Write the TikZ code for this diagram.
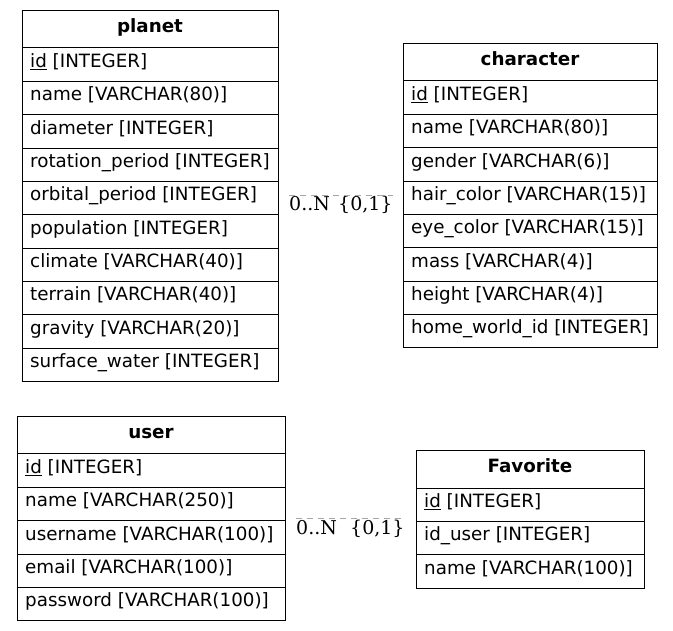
\documentclass[tikz,border=0pt]{standalone}
\usepackage{fontspec}
\setmainfont{DejaVu Sans}
\newfontfamily\lblfont{DejaVu Serif}
\tikzset{
  tbl/.style={draw=black, line width=1pt},
  fld/.style={anchor=base west, inner sep=0pt, font=\fontsize{18.3}{22}\selectfont},
  hdr/.style={anchor=base, inner sep=0pt, font=\fontsize{18.3}{22}\selectfont\bfseries},
  card/.style={anchor=base west, inner sep=0pt, font=\lblfont\fontsize{19}{22}\selectfont},
  rel/.style={draw=black!35, line width=1.5pt, dash pattern=on 6pt off 5pt}
}
% name, x1, x2, top, title, fields
\newcommand\erTable[6]{%
  \node[hdr] (#1-h) at ({(#2+#3)/2}, #4+21.5) {#5};
  \foreach \ftext [count=\i] in {#6} {
    \pgfmathsetmacro\rt{#4+37+(\i-1)*33.35}
    \draw[tbl] (#2,\rt) -- (#3,\rt);
    \node[fld] (#1-\i) at (#2+8,\rt+19.5) {\ftext};
    \xdef\nrows{\i}
  }
  \draw[tbl] (#2,#4) rectangle (#3,{#4+37+\nrows*33.35});
}
\begin{document}
\begin{tikzpicture}[x=1pt,y=-1pt]
\useasboundingbox (0,0) rectangle (673,631);
\fill[white] (0,0) rectangle (673,631);

\erTable{planet}{22}{278}{11}{planet}{%
  \underline{id} [INTEGER],
  name [VARCHAR(80)],
  diameter [INTEGER],
  rotation\_period [INTEGER],
  orbital\_period [INTEGER],
  population [INTEGER],
  climate [VARCHAR(40)],
  terrain [VARCHAR(40)],
  gravity [VARCHAR(20)],
  surface\_water [INTEGER]}

\erTable{character}{403}{657}{44}{character}{%
  \underline{id} [INTEGER],
  name [VARCHAR(80)],
  gender [VARCHAR(6)],
  hair\_color [VARCHAR(15)],
  eye\_color [VARCHAR(15)],
  mass [VARCHAR(4)],
  height [VARCHAR(4)],
  home\_world\_id [INTEGER]}

\erTable{user}{17}{285}{417}{user}{%
  \underline{id} [INTEGER],
  name [VARCHAR(250)],
  username [VARCHAR(100)],
  email [VARCHAR(100)],
  password [VARCHAR(100)]}

\erTable{favorite}{416}{644}{451}{Favorite}{%
  \underline{id} [INTEGER],
  id\_user [INTEGER],
  name [VARCHAR(100)]}

% relationship labels
\node[card] (c1a) at (289,211) {0..N};
\node[card] (c1b) at (338,211) {\{0,1\}};
\coordinate (r1) at ([yshift=1pt]c1a.north west);
\draw[rel] (r1) -- (r1 -| c1b.east);

\node[card] (c2a) at (296,534) {0..N};
\node[card] (c2b) at (350,534) {\{0,1\}};
\coordinate (r2) at ([yshift=1pt]c2a.north west);
\draw[rel] (r2) -- (r2 -| c2b.east);
\end{tikzpicture}
\end{document}
